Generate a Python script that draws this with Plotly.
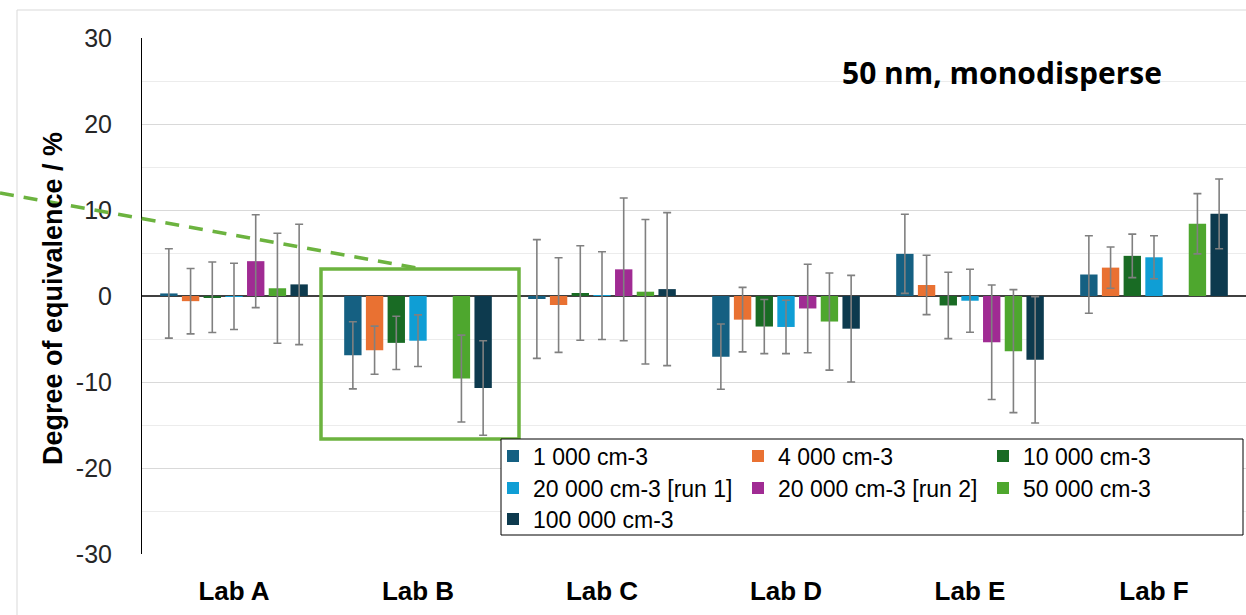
import plotly.graph_objects as go

labs = ["Lab A", "Lab B", "Lab C", "Lab D", "Lab E", "Lab F"]
series_names = ["1 000 cm-3", "4 000 cm-3", "10 000 cm-3",
                "20 000 cm-3 [run 1]", "20 000 cm-3 [run 2]", "50 000 cm-3",
                "100 000 cm-3"]

v_1000 = [0.3, -6.9, -0.35, -7.05, 4.9, 2.5]
e_1000 = [5.2, 3.9, 6.9, 3.8, 4.6, 4.5]
v_4000 = [-0.6, -6.3, -1.05, -2.75, 1.28, 3.3]
e_4000 = [3.8, 2.8, 5.5, 3.75, 3.45, 2.4]
v_10000 = [-0.15, -5.45, 0.35, -3.55, -1.1, 4.67]
e_10000 = [4.1, 3.1, 5.5, 3.15, 3.86, 2.53]
v_20000_r1 = [-0.05, -5.2, 0.05, -3.6, -0.55, 4.5]
e_20000_r1 = [3.85, 3.0, 5.1, 3.1, 3.66, 2.5]
v_20000_r2 = [4.05, None, 3.1, -1.45, -5.38, None]
e_20000_r2 = [5.4, None, 8.3, 5.15, 6.66, None]
v_50000 = [0.9, -9.6, 0.5, -2.97, -6.41, 8.4]
e_50000 = [6.4, 5.05, 8.4, 5.65, 7.15, 3.5]
v_100000 = [1.35, -10.7, 0.8, -3.8, -7.42, 9.55]
e_100000 = [7.0, 5.5, 8.9, 6.2, 7.35, 4.05]

y_tick_vals = [-30, -20, -10, 0, 10, 20, 30]
y_tick_text = ["-30", "-20", "-10", "0", "10", "20", "30"]

values = [v_1000, v_4000, v_10000, v_20000_r1, v_20000_r2, v_50000, v_100000]
errors = [e_1000, e_4000, e_10000, e_20000_r1, e_20000_r2, e_50000, e_100000]
colors = ["#156082", "#E97132", "#196B24", "#0F9ED5", "#A02B93", "#4EA72E", "#0D3A4E"]
legend_ids = ["legend", "legend", "legend", "legend2", "legend2", "legend2", "legend3"]

W, H = 1246, 615
ML, MR, MT, MB = 142, 0, 38, 61
PW, PH = W - ML - MR, H - MT - MB

def px(x):
    return (x - ML) / PW

def py(y):
    return (H - MB - y) / PH

fig = go.Figure()
for name, v, e, c, lg in zip(series_names, values, errors, colors, legend_ids):
    fig.add_trace(go.Bar(
        x=labs, y=v, name=name, marker=dict(color=c, line=dict(width=0)),
        error_y=dict(type="data", array=e, visible=True, color="#808080",
                     thickness=1.6, width=4),
        legend=lg,
    ))

leg_font = dict(family="Liberation Sans, Arial, sans-serif", size=23, color="#000000")
leg_common = dict(orientation="h", xanchor="left", yanchor="middle",
                  bgcolor="rgba(0,0,0,0)", borderwidth=0, font=leg_font,
                  entrywidth=200, entrywidthmode="pixels", itemwidth=30,
                  tracegroupgap=0, traceorder="normal")

green = "#6CB33F"
shapes = [
    # outer chart border
    dict(type="rect", xref="paper", yref="paper", x0=px(17), x1=px(1300),
         y0=py(700), y1=py(10), line=dict(color="#D9D9D9", width=1), layer="below"),
    # dashed highlight line
    dict(type="line", xref="paper", yref="paper", x0=px(0), y0=py(193),
         x1=px(417), y1=py(268), line=dict(color=green, width=3.5, dash="14px,10px")),
    # highlight box
    dict(type="rect", xref="paper", yref="paper", x0=px(321), x1=px(519),
         y0=py(439), y1=py(269), line=dict(color=green, width=3.5)),
    # legend box
    dict(type="rect", xref="paper", yref="paper", x0=px(501), x1=px(1243),
         y0=py(535), y1=py(439), line=dict(color="#000000", width=1),
         fillcolor="#FFFFFF", layer="above"),
]

fig.update_layout(
    width=W, height=H,
    margin=dict(l=ML, r=MR, t=MT, b=MB, autoexpand=False),
    paper_bgcolor="#FFFFFF", plot_bgcolor="#FFFFFF",
    barmode="group", bargap=0.174, bargroupgap=0.2,
    showlegend=True,
    legend=dict(x=px(493), y=py(456), **leg_common),
    legend2=dict(x=px(493), y=py(488), **leg_common),
    legend3=dict(x=px(493), y=py(519), **leg_common),
    shapes=shapes,
    xaxis=dict(
        type="category", showgrid=False, showline=False, zeroline=False, ticks="",
        tickfont=dict(family="Liberation Sans, Arial, sans-serif", size=26,
                      color="#000000", weight="bold"),
        ticklabelstandoff=19,
    ),
    yaxis=dict(
        range=[-30, 30], tickmode="array", tickvals=y_tick_vals, ticktext=y_tick_text,
        showgrid=True, gridcolor="#D9D9D9",
        gridwidth=1, zeroline=True, zerolinecolor="#404040", zerolinewidth=1.6,
        showline=True, linecolor="#000000", linewidth=1, ticks="",
        tickfont=dict(family="Liberation Sans, Arial, sans-serif", size=25,
                      color="#262626"),
        ticklabelstandoff=24,
        minor=dict(dtick=5, tick0=0, showgrid=True, gridcolor="#ECECEC", gridwidth=1),
    ),
    annotations=[
        dict(text="Degree of equivalence / %", textangle=-90, xref="paper",
             yref="paper", x=px(53), y=py(299), xanchor="center", yanchor="middle",
             showarrow=False,
             font=dict(family="Liberation Sans, Arial, sans-serif", size=27,
                       color="#000000", weight="bold")),
        dict(text="<b>50 nm, monodisperse</b>", xref="paper", yref="paper",
             x=px(1002), y=py(72), xanchor="center", yanchor="middle",
             showarrow=False,
             font=dict(family="Open Sans, sans-serif", size=30, color="#000000")),
    ],
)

fig.write_html("out.html")
